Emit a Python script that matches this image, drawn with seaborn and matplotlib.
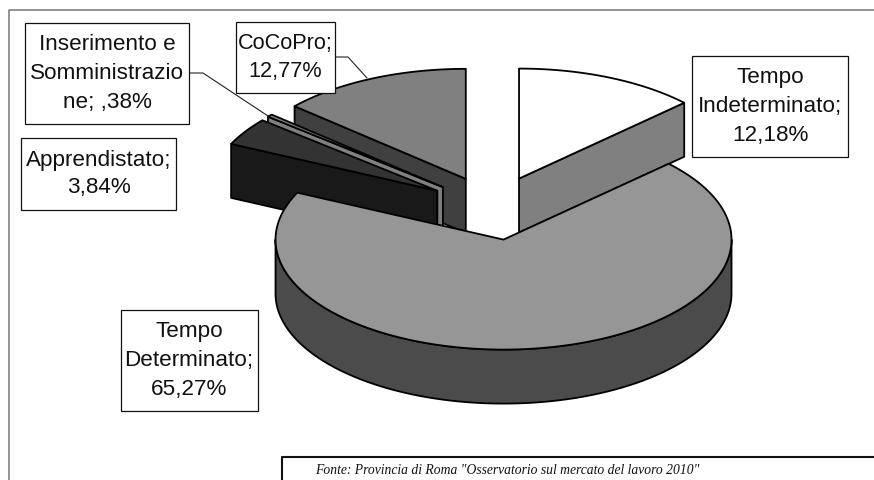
import numpy as np
import matplotlib
matplotlib.use("Agg")
import matplotlib.pyplot as plt
from matplotlib.patches import Polygon, Rectangle
import seaborn as sns

# ---- data ----
categories = ["Tempo Indeterminato", "Tempo Determinato", "Apprendistato",
              "Inserimento e Somministrazione", "CoCoPro"]
values = [12.18, 65.27, 3.84, 0.38, 12.77]
value_labels = ["12,18%", "65,27%", "3,84%", ",38%", "12,77%"]
top_colors = ["#ffffff", "#969696", "#333333", "#808080", "#808080"]
wall_colors = ["#808080", "#4b4b4b", "#191919", "#808080", "#404040"]

sns.set_theme(style="white")
plt.rcParams["font.family"] = ["Liberation Sans", "DejaVu Sans"]

fig = plt.figure(figsize=(8.74, 4.8), dpi=100, facecolor="white")
ax = fig.add_axes([0, 0, 1, 1])
ax.set_xlim(0, 874)
ax.set_ylim(480, 0)
ax.axis("off")

# pie projection
CX, CY = 493.0, 208.0
RX, RY = 228.0, 110.0
EX, EY = 66.0, 32.0
DEPTH = 54.0

frac = np.array(values) / np.sum(values)
ends = np.cumsum(frac) * 2 * np.pi
starts = ends - frac * 2 * np.pi
mids = (starts + ends) / 2


def P(apex, t):
    return apex[0] + RX * np.sin(t), apex[1] - RY * np.cos(t)


draw_order = [4, 3, 2, 0, 1]
LW = 1.3
for rank, i in enumerate(draw_order):
    z = 2 + rank * 0.1
    a0, a1 = starts[i], ends[i]
    apex = (CX + EX * np.sin(mids[i]), CY - EY * np.cos(mids[i]))
    walls = []
    for t, vis in ((a0, np.sin(a0) < -1e-6), (a1, np.sin(a1) > 1e-6)):
        if vis:
            x, y = P(apex, t)
            walls.append([apex, (x, y), (x, y + DEPTH), (apex[0], apex[1] + DEPTH)])
    # outer rim for the front half
    lo, hi = max(a0, np.pi / 2), min(a1, 3 * np.pi / 2)
    if hi > lo:
        ts = np.linspace(lo, hi, 160)
        xs, ys = P(apex, ts)
        walls.append(list(zip(xs, ys)) + list(zip(xs[::-1], ys[::-1] + DEPTH)))
    for w in walls:
        ax.add_patch(Polygon(w, closed=True, fc=wall_colors[i], ec="black", lw=LW, zorder=z, joinstyle="round"))
    ts = np.linspace(a0, a1, 160)
    xs, ys = P(apex, ts)
    ax.add_patch(Polygon([apex] + list(zip(xs, ys)), closed=True, fc=top_colors[i], ec="black",
                         lw=LW, zorder=z, joinstyle="round"))

# leader lines
ax.plot([189, 203, 268], [73, 73, 116], color="#222222", lw=0.8, zorder=4)
ax.plot([335, 348, 367], [57, 57, 78], color="#222222", lw=0.8, zorder=4)

# label boxes
boxes = [
    (692, 56, 156, 101, "Tempo\nIndeterminato;\n" + value_labels[0], 16.2, 1.5),
    (120.5, 310, 137, 101, "Tempo\nDeterminato;\n" + value_labels[1], 16.2, 1.5),
    (21, 138, 155, 72, "Apprendistato;\n" + value_labels[2], 16.2, 1.42),
    (25, 23, 164, 101, "Inserimento e\nSomministrazio\nne; " + value_labels[3], 16.2, 1.5),
    (236, 22, 99, 71, "CoCoPro;\n" + value_labels[4], 15.6, 1.42),
]
for x, y, w, h, s, fs, ls in boxes:
    ax.add_patch(Rectangle((x, y), w, h, fc="white", ec="#111111", lw=0.9, zorder=5))
    ax.text(x + w / 2, y + h / 2, s, ha="center", va="center", fontsize=fs,
            color="#111111", linespacing=ls, zorder=6)

# outer frame
ax.plot([8.5, 8.5, 874], [480, 9.5, 9.5], color="#808080", lw=1.2, zorder=1)

# source box
ax.plot([282, 282, 874], [480, 456.5, 456.5], color="#111111", lw=1.5, zorder=7)
ax.text(507, 470, 'Fonte: Provincia di Roma "Osservatorio sul mercato del lavoro 2010"',
        family="Liberation Serif", style="italic", fontsize=9.8, ha="center", va="center",
        color="#111111", zorder=7)

fig.savefig("out.png", dpi=100)
